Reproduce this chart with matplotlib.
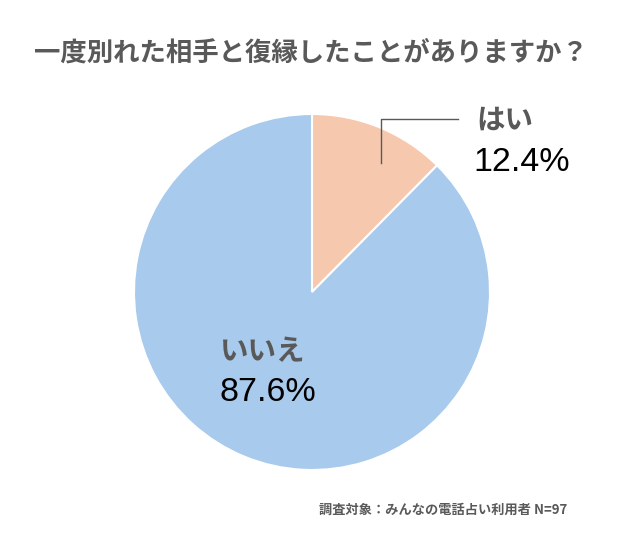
import matplotlib
matplotlib.use("Agg")
import matplotlib.pyplot as plt

# -----------------------------
# DATA
# -----------------------------
labels = ["はい", "いいえ"]
values = [12.4, 87.6]
colors = ["#F6C8AE", "#A8CAEC"]
title = "一度別れた相手と復縁したことがありますか？"
note = "調査対象：みんなの電話占い利用者 N=97"

JP = ["Noto Sans CJK JP", "DejaVu Sans"]
GRAY = "#595959"

# -----------------------------
# FIGURE
# -----------------------------
W, H = 622, 544
fig = plt.figure(figsize=(W / 100, H / 100), dpi=100)

cx, cy, r = 312, 292, 178
ax = fig.add_axes([(cx - r) / W, (H - cy - r) / H, 2 * r / W, 2 * r / H])
ax.pie(values, colors=colors, startangle=90, counterclock=False, radius=1,
       wedgeprops=dict(edgecolor="white", linewidth=1.5))
ax.set_xlim(-1, 1)
ax.set_ylim(-1, 1)
ax.set_aspect("equal")
ax.axis("off")

# leader line for the small slice
ax.plot([0.388, 0.388, 0.82], [0.725, 0.972, 0.972], color=GRAY, lw=1, clip_on=False)

ax.text(0.921, 0.966, labels[0], family=JP, fontweight="bold", fontsize=20.5,
        color=GRAY, ha="left", va="center", clip_on=False)
ax.text(0.904, 0.725, f"{values[0]}%", family="Liberation Sans", fontsize=24.5,
        color="black", ha="left", va="center", clip_on=False)

ax.text(-0.517, -0.337, labels[1], family=JP, fontweight="bold", fontsize=20.5,
        color=GRAY, ha="left", va="center")
ax.text(-0.517, -0.567, f"{values[1]}%", family="Liberation Sans", fontsize=24.5,
        color="black", ha="left", va="center")

fig.text(0.5, 1 - 53 / H, title, family=JP, fontweight="bold", fontsize=19,
         color=GRAY, ha="center", va="center")
fig.text(567 / W, 1 - 510 / H, note, family=JP, fontweight="bold", fontsize=9.5,
         color=GRAY, ha="right", va="center")

fig.savefig("out.png", dpi=100, facecolor="white")
